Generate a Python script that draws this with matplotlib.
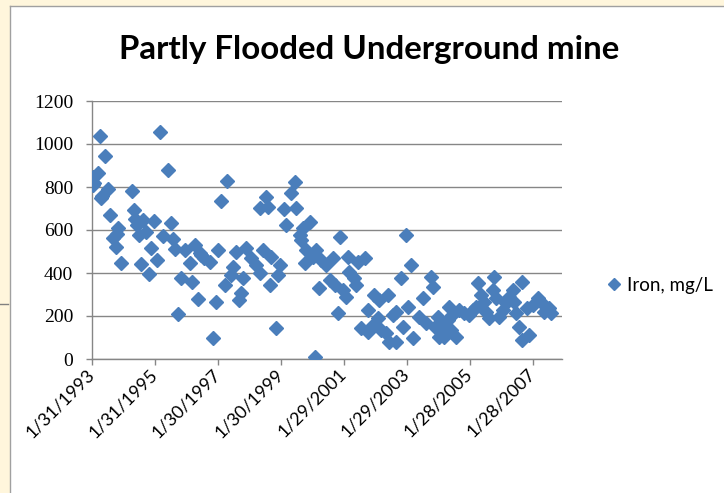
# Iron concentration in a partly flooded underground mine, 1993-2007
import numpy as np
import matplotlib.pyplot as plt
import matplotlib.patches as patches
import matplotlib.transforms as mtransforms
import pandas as pd

# sampling time (decimal year) and iron concentration (mg/L)
year = [1993.10, 1993.12, 1993.15, 1993.26, 1993.33, 1993.37, 1993.40, 1993.51,
        1993.58, 1993.65, 1993.75, 1993.84, 1993.88, 1993.91, 1994.00, 1994.34,
        1994.41, 1994.45, 1994.50, 1994.57, 1994.65, 1994.71, 1994.81, 1994.90,
        1994.97, 1995.05, 1995.13, 1995.23, 1995.34, 1995.48, 1995.58, 1995.66,
        1995.71, 1995.81, 1995.92, 1996.03, 1996.19, 1996.27, 1996.34, 1996.45,
        1996.50, 1996.55, 1996.65, 1996.82, 1996.92, 1997.03, 1997.08, 1997.19,
        1997.29, 1997.35, 1997.50, 1997.55, 1997.66, 1997.75, 1997.82, 1997.87,
        1997.98, 1998.14, 1998.30, 1998.40, 1998.40, 1998.50, 1998.61, 1998.67,
        1998.72, 1998.77, 1998.93, 1998.98, 1999.04, 1999.19, 1999.25, 1999.41,
        1999.51, 1999.57, 1999.67, 1999.72, 1999.77, 1999.83, 1999.88, 1999.99,
        2000.09, 2000.15, 2000.20, 2000.27, 2000.36, 2000.51, 2000.62, 2000.72,
        2000.78, 2000.88, 2000.94, 2001.04, 2001.15, 2001.20, 2001.25, 2001.41,
        2001.46, 2001.52, 2001.62, 2001.73, 2001.83, 2001.83, 2001.99, 2002.04,
        2002.15, 2002.20, 2002.26, 2002.42, 2002.47, 2002.52, 2002.62, 2002.73,
        2002.73, 2002.89, 2002.94, 2003.05, 2003.10, 2003.21, 2003.26, 2003.47,
        2003.57, 2003.68, 2003.84, 2003.89, 2003.95, 2004.05, 2004.08, 2004.16,
        2004.26, 2004.37, 2004.42, 2004.47, 2004.52, 2004.63, 2004.74, 2004.90,
        2005.05, 2005.16, 2005.26, 2005.32, 2005.42, 2005.53, 2005.58, 2005.69,
        2005.79, 2005.83, 2005.90, 2006.00, 2006.11, 2006.21, 2006.32, 2006.43,
        2006.48, 2006.53, 2006.64, 2006.74, 2006.74, 2006.90, 2006.95, 2007.06,
        2007.22, 2007.32, 2007.43, 2007.58, 2007.64]
iron = [810, 845, 820, 867, 1037, 749, 760, 946,
        789, 670, 561, 522, 580, 608, 445, 781,
        693, 650, 623, 577, 442, 647, 592, 394,
        515, 642, 460, 1057, 572, 879, 631, 557,
        510, 209, 375, 507, 445, 360, 530, 279,
        493, 484, 470, 453, 96, 267, 507, 736,
        344, 829, 391, 429, 499, 274, 306, 375,
        515, 468, 437, 398, 701, 507, 755, 708,
        344, 476, 143, 391, 437, 696, 623, 771,
        825, 701, 577, 553, 608, 445, 507, 639,
        476, 10, 507, 329, 460, 437, 367, 468,
        344, 213, 566, 321, 290, 476, 406, 375,
        344, 453, 143, 468, 228, 127, 158, 298,
        189, 274, 135, 119, 298, 80, 205, 80,
        220, 375, 150, 577, 243, 437, 96, 197,
        282, 166, 383, 336, 150, 197, 104, 143,
        104, 181, 243, 135, 205, 104, 228, 212,
        205, 228, 243, 352, 298, 267, 220, 189,
        321, 383, 282, 197, 228, 259, 290, 321,
        267, 212, 150, 88, 360, 236, 112, 251,
        282, 267, 220, 236, 212]

yr = np.array(year)
dates = pd.Timestamp('1993-01-01') + pd.to_timedelta((yr - 1993) * 365.25, unit='D')

start = pd.Timestamp('1993-01-31')
tick_dates = [start + pd.Timedelta(days=730 * k) for k in range(8)]
tick_labels = [f"{d.month}/{d.day}/{d.year}" for d in tick_dates]

blue = '#4A7EBB'
grey = '#868686'

fig = plt.figure(figsize=(7.24, 4.93), dpi=100)
fig.patch.set_facecolor('white')

# slide background peeking out around the chart frame
fig.patches.append(patches.Rectangle((0, 0), 10 / 724, 1, transform=fig.transFigure,
                                     facecolor='#FFF6DC', edgecolor='none', zorder=0))
fig.patches.append(patches.Rectangle((0, 1 - 6 / 493), 1, 6 / 493, transform=fig.transFigure,
                                     facecolor='#FFF6DC', edgecolor='none', zorder=0))
fig.lines.append(plt.Line2D([10 / 724, 10 / 724], [0, 1 - 6 / 493], transform=fig.transFigure,
                            color='#A0A0A0', lw=1))
fig.lines.append(plt.Line2D([10 / 724, 1], [1 - 6 / 493, 1 - 6 / 493], transform=fig.transFigure,
                            color='#A0A0A0', lw=1))
fig.lines.append(plt.Line2D([0, 8 / 724], [1 - 304 / 493, 1 - 304 / 493], transform=fig.transFigure,
                            color='#808080', lw=1))

ax = fig.add_axes([92 / 724, 1 - 359 / 493, 470 / 724, 258 / 493])
ax.plot(dates, iron, linestyle='none', marker='D', ms=7.5, color=blue,
        markeredgecolor=blue, label='Iron, mg/L', zorder=3)

ax.set_xlim(start, start + pd.Timedelta(days=5447))
ax.set_ylim(0, 1200)
ax.set_yticks(np.arange(0, 1201, 200))
ax.set_yticklabels([str(v) for v in range(0, 1201, 200)], family='Liberation Serif',
                   fontsize=14)
ax.set_xticks(tick_dates)
ax.set_xticklabels(tick_labels, rotation=45, rotation_mode='anchor', ha='right',
                   va='center', family='Lato', fontsize=13)
# nudge the slanted date labels to the right of their ticks
shift = mtransforms.ScaledTranslation(7 / 100, 0, fig.dpi_scale_trans)
for lbl in ax.get_xticklabels():
    lbl.set_transform(lbl.get_transform() + shift)

ax.grid(axis='y', color=grey, lw=1)
ax.set_axisbelow(True)
for side in ['top', 'right']:
    ax.spines[side].set_visible(False)
for side in ['left', 'bottom']:
    ax.spines[side].set_color(grey)
    ax.spines[side].set_linewidth(1)
ax.tick_params(axis='y', direction='out', length=4, color=grey, width=1, pad=9.5)
ax.tick_params(axis='x', direction='out', length=4, color=grey, width=1, pad=5)

fig.text(369 / 724, 1 - 50 / 493, 'Partly Flooded Underground mine', ha='center', va='center',
         family='Lato', fontweight='bold', fontsize=23.8)

ax.legend(loc='center left', bbox_to_anchor=(606 / 724, 1 - 285 / 493),
          bbox_transform=fig.transFigure, frameon=False, handlelength=0.8,
          handletextpad=0.3, borderpad=0, borderaxespad=0,
          prop={'family': 'Lato', 'size': 13.5}, markerscale=0.85)

fig.savefig('out.png', dpi=100)
